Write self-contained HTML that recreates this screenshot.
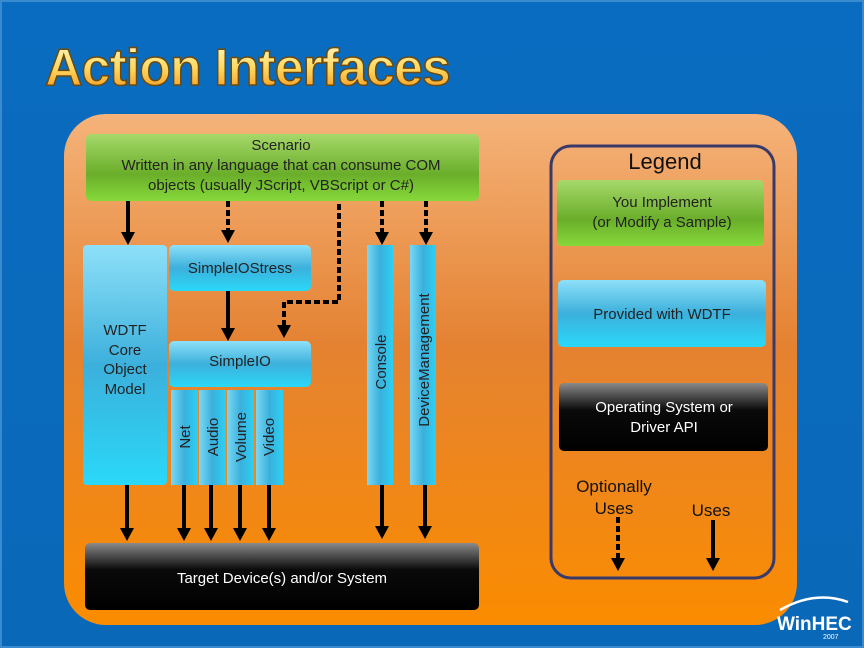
<!DOCTYPE html>
<html><head><meta charset="utf-8"><style>
html,body{margin:0;padding:0;background:#0b6cbf;}
svg{display:block;}
text{font-family:"Liberation Sans",sans-serif;}
</style></head><body>
<svg width="864" height="648" viewBox="0 0 864 648" xmlns="http://www.w3.org/2000/svg">
<defs>
<linearGradient id="bg" x1="0" y1="0" x2="0" y2="1"><stop offset="0" stop-color="#0a6cc0"/><stop offset="1" stop-color="#0a68b8"/></linearGradient>
<linearGradient id="org" x1="0" y1="0" x2="0" y2="1"><stop offset="0" stop-color="#f5b37a"/><stop offset="0.45" stop-color="#e48232"/><stop offset="1" stop-color="#fb8c00"/></linearGradient>
<linearGradient id="grn" x1="0" y1="0" x2="0" y2="1"><stop offset="0" stop-color="#a6d86a"/><stop offset="0.6" stop-color="#6aae2a"/><stop offset="1" stop-color="#86d83a"/></linearGradient>
<linearGradient id="blu" x1="0" y1="0" x2="0" y2="1"><stop offset="0" stop-color="#8ee0f8"/><stop offset="0.5" stop-color="#3cb0dc"/><stop offset="1" stop-color="#2ad8f8"/></linearGradient>
<linearGradient id="bluh" x1="0" y1="0" x2="1" y2="0"><stop offset="0" stop-color="#7ad8f4"/><stop offset="0.5" stop-color="#3ab0dc"/><stop offset="1" stop-color="#2cd0f4"/></linearGradient>
<linearGradient id="blk" x1="0" y1="0" x2="0" y2="1"><stop offset="0" stop-color="#8a8a8a"/><stop offset="0.4" stop-color="#0a0a0a"/><stop offset="1" stop-color="#000"/></linearGradient>
<linearGradient id="ttl" x1="0" y1="0" x2="0" y2="1"><stop offset="0" stop-color="#fffbd0"/><stop offset="0.5" stop-color="#ffd860"/><stop offset="1" stop-color="#f08a10"/></linearGradient>
</defs>
<rect width="864" height="648" fill="url(#bg)"/>
<rect x="1" y="1" width="862" height="646" fill="none" stroke="#3a8ad0" stroke-width="2"/>
<text x="45" y="85" font-size="52" font-weight="bold" fill="url(#ttl)" stroke="#6a4a10" stroke-width="1.5" letter-spacing="-1">Action Interfaces</text>
<rect x="64" y="114" width="733" height="511" rx="42" fill="url(#org)"/>

<rect x="86" y="134" width="393" height="67" rx="5" fill="url(#grn)"/>
<g font-size="15" fill="#222" text-anchor="middle">
<text x="281" y="150">Scenario</text>
<text x="281" y="170">Written in any language that can consume COM</text>
<text x="281" y="190">objects (usually JScript, VBScript or C#)</text>
</g>

<rect x="83" y="245" width="84" height="240" rx="4" fill="url(#blu)"/>
<g font-size="15" fill="#222" text-anchor="middle">
<text x="125" y="335">WDTF</text><text x="125" y="355">Core</text><text x="125" y="374">Object</text><text x="125" y="394">Model</text>
</g>
<rect x="169" y="245" width="142" height="46" rx="5" fill="url(#blu)"/>
<text x="240" y="273" font-size="15" fill="#222" text-anchor="middle">SimpleIOStress</text>
<rect x="169" y="341" width="142" height="46" rx="5" fill="url(#blu)"/>
<text x="240" y="366" font-size="15" fill="#222" text-anchor="middle">SimpleIO</text>
<g fill="url(#bluh)">
<rect x="171" y="390" width="27" height="95"/><rect x="199" y="390" width="27" height="95"/>
<rect x="227" y="390" width="27" height="95"/><rect x="256" y="390" width="27" height="95"/>
<rect x="367" y="245" width="26" height="240"/><rect x="410" y="245" width="26" height="240"/>
</g>
<g font-size="15" fill="#222" text-anchor="middle">
<text transform="translate(190,437) rotate(-90)">Net</text>
<text transform="translate(218,437) rotate(-90)">Audio</text>
<text transform="translate(246,437) rotate(-90)">Volume</text>
<text transform="translate(274,437) rotate(-90)">Video</text>
<text transform="translate(386,362) rotate(-90)">Console</text>
<text transform="translate(429,360) rotate(-90)">DeviceManagement</text>
</g>

<rect x="85" y="543" width="394" height="67" rx="5" fill="url(#blk)"/>
<text x="282" y="583" font-size="15" fill="#fff" text-anchor="middle">Target Device(s) and/or System</text>

<g stroke="#000" stroke-width="4" fill="none">
<line x1="128" y1="201" x2="128" y2="234"/>
<line x1="228" y1="201" x2="228" y2="232" stroke-dasharray="6,3"/>
<polyline points="339,204 339,302 284,302 284,327" stroke-dasharray="6,3"/>
<line x1="382" y1="201" x2="382" y2="234" stroke-dasharray="6,3"/>
<line x1="426" y1="201" x2="426" y2="234" stroke-dasharray="6,3"/>
<line x1="228" y1="291" x2="228" y2="330"/>
<line x1="127" y1="485" x2="127" y2="530"/>
<line x1="184" y1="485" x2="184" y2="530"/>
<line x1="211" y1="485" x2="211" y2="530"/>
<line x1="240" y1="485" x2="240" y2="530"/>
<line x1="269" y1="485" x2="269" y2="530"/>
<line x1="382" y1="485" x2="382" y2="528"/>
<line x1="425" y1="485" x2="425" y2="528"/>
<line x1="618" y1="517" x2="618" y2="560" stroke-dasharray="6,3"/>
<line x1="713" y1="520" x2="713" y2="560"/>
</g>
<g fill="#000">
<path d="M121,232 L135,232 L128,245 Z"/>
<path d="M221,230 L235,230 L228,243 Z"/>
<path d="M277,325 L291,325 L284,338 Z"/>
<path d="M375,232 L389,232 L382,245 Z"/>
<path d="M419,232 L433,232 L426,245 Z"/>
<path d="M221,328 L235,328 L228,341 Z"/>
<path d="M120,528 L134,528 L127,541 Z"/>
<path d="M177,528 L191,528 L184,541 Z"/>
<path d="M204,528 L218,528 L211,541 Z"/>
<path d="M233,528 L247,528 L240,541 Z"/>
<path d="M262,528 L276,528 L269,541 Z"/>
<path d="M375,526 L389,526 L382,539 Z"/>
<path d="M418,526 L432,526 L425,539 Z"/>
<path d="M611,558 L625,558 L618,571 Z"/>
<path d="M706,558 L720,558 L713,571 Z"/>
</g>

<rect x="551" y="146" width="223" height="432" rx="20" fill="none" stroke="#3a3a6a" stroke-width="3"/>
<text x="665" y="169" font-size="22" fill="#111" text-anchor="middle">Legend</text>
<rect x="557" y="180" width="207" height="66" rx="5" fill="url(#grn)"/>
<text x="662" y="207" font-size="15" fill="#222" text-anchor="middle">You Implement</text>
<text x="662" y="227" font-size="15" fill="#222" text-anchor="middle">(or Modify a Sample)</text>
<rect x="558" y="280" width="208" height="67" rx="5" fill="url(#blu)"/>
<text x="662" y="319" font-size="15" fill="#222" text-anchor="middle">Provided with WDTF</text>
<rect x="559" y="383" width="209" height="68" rx="5" fill="url(#blk)"/>
<text x="664" y="412" font-size="15" fill="#fff" text-anchor="middle">Operating System or</text>
<text x="664" y="432" font-size="15" fill="#fff" text-anchor="middle">Driver API</text>
<text x="614" y="492" font-size="17" fill="#111" text-anchor="middle">Optionally</text>
<text x="614" y="514" font-size="17" fill="#111" text-anchor="middle">Uses</text>
<text x="711" y="516" font-size="17" fill="#111" text-anchor="middle">Uses</text>

<path d="M780,610 Q815,590 848,602" stroke="#fff" stroke-width="2.5" fill="none"/>
<text x="777" y="630" font-size="19" font-weight="bold" fill="#fff">WinHEC</text>
<text x="823" y="639" font-size="7" fill="#fff">2007</text>
</svg>
</body></html>
